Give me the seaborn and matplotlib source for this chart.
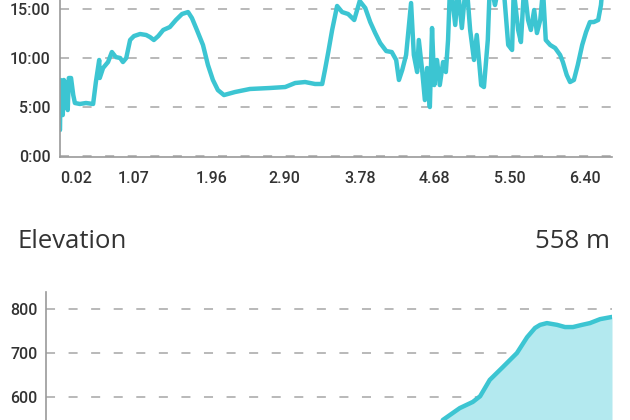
import numpy as np
import pandas as pd
import matplotlib
matplotlib.use("Agg")
import matplotlib.pyplot as plt
import seaborn as sns

# pace chart: x = position along the activity (0-100), pace in minutes per km
pace_x = [0.0, 0.1, 0.3, 0.4, 0.5, 0.7, 0.9, 1.1, 1.4, 1.6, 2.0, 2.4, 2.7, 3.6, 4.7, 6.0,
          6.5, 7.1, 7.2, 7.8, 8.7, 9.4, 10.1, 10.9, 11.4, 12.0, 12.7, 13.4, 14.5, 15.6,
          16.3, 17.0, 17.8, 18.7, 19.9, 21.0, 22.1, 23.2, 23.9, 24.8, 25.9, 26.8, 27.7,
          28.6, 29.7, 31.7, 34.4, 38.0, 40.8, 42.6, 44.4, 46.2, 47.5, 48.0, 48.6, 49.3,
          50.2, 51.1, 52.2, 53.3, 54.3, 55.3, 56.2, 57.1, 58.0, 59.1, 60.1, 60.9, 61.4,
          62.0, 62.7, 63.6, 64.1, 64.7, 65.0, 65.6, 66.1, 66.5, 67.0, 67.4, 67.8, 68.3,
          68.8, 69.4, 69.9, 70.3, 70.7, 71.6, 72.1, 72.8, 73.6, 74.3, 75.0, 75.5, 76.3,
          76.8, 77.5, 77.9, 78.8, 79.7, 80.4, 81.2, 81.9, 82.2, 83.0, 83.5, 84.1, 84.8,
          85.3, 85.9, 86.4, 87.0, 87.5, 88.0, 88.8, 89.7, 90.6, 91.1, 91.8, 92.4, 93.1,
          93.8, 94.6, 95.3, 96.0, 96.7, 97.5, 98.0, 98.4]
pace_min = [2.65, 7.76, 4.49, 7.55, 4.18, 7.76, 5.71, 7.55, 4.69, 7.96, 7.96, 6.22, 5.41,
            5.31, 5.41, 5.31, 7.55, 9.80, 7.96, 8.98, 9.59, 10.61, 10.10, 10.00, 9.59,
            10.00, 11.84, 12.24, 12.45, 12.35, 12.14, 11.84, 12.24, 12.86, 13.16, 13.88,
            14.49, 14.69, 14.08, 12.86, 11.33, 9.29, 7.76, 6.73, 6.22, 6.53, 6.84, 6.94,
            7.04, 7.45, 7.55, 7.35, 7.35, 8.78, 10.61, 12.86, 15.31, 14.69, 14.49, 13.88,
            15.82, 15.10, 13.67, 12.55, 11.53, 10.71, 10.61, 9.80, 7.76, 8.78, 10.31,
            15.61, 10.31, 8.57, 11.84, 8.78, 5.71, 8.98, 5.00, 13.06, 7.24, 9.80, 7.24,
            9.59, 8.57, 11.84, 17.96, 13.37, 16.94, 13.06, 17.96, 12.86, 9.80, 12.35,
            7.24, 7.04, 11.84, 17.96, 15.41, 17.96, 16.94, 11.33, 10.82, 16.94, 12.86,
            11.63, 17.45, 13.88, 12.86, 14.90, 12.55, 13.88, 16.94, 11.84, 11.33, 11.02,
            10.31, 9.59, 8.27, 7.55, 7.76, 9.29, 11.33, 12.65, 13.67, 13.67, 13.88,
            15.41, 17.96]
dist_tick_pos = [2.9, 13.4, 27.4, 40.6, 54.3, 67.9, 81.5, 95.1]
dist_tick_labels = ["0.02", "1.07", "1.96", "2.90", "3.78", "4.68", "5.50", "6.40"]
pace_ticks = [0, 5, 10, 15]
pace_tick_labels = ["0:00", "5:00", "10:00", "15:00"]

# elevation chart (only the visible part, lower values are cut off)
elev_x = [70.1, 73.1, 75.4, 76.7, 78.4, 80.7, 83.2, 85.0, 86.4, 87.3, 88.5, 90.3, 91.7,
          93.1, 94.7, 96.1, 97.9, 100.0]
elev_m = [548, 575, 589, 602, 639, 668, 700, 736, 757, 764, 768, 764, 759, 759, 764,
          768, 777, 782]
elev_ticks = [600, 700, 800]

pace = pd.DataFrame({"x": pace_x, "pace": pace_min})
elev = pd.DataFrame({"x": elev_x, "elev": elev_m})

sns.set_style("white")
plt.rcParams['font.family'] = ['Roboto', 'DejaVu Sans']

teal = "#3cc5d2"
grid_c = "#b3b3b3"
spine_c = "#9a9a9a"
txt_c = "#333333"

fig = plt.figure(figsize=(6.3, 4.2), dpi=100)

# top: pace
ax1 = fig.add_axes([60/630, 263/420, 552/630, 157/420])
sns.lineplot(data=pace, x="x", y="pace", ax=ax1, color=teal, linewidth=3.2)
ax1.set_xlim(0, 100)
ax1.set_ylim(-0.1, 15.92)
ax1.set_yticks(pace_ticks)
ax1.set_yticklabels(pace_tick_labels)
ax1.set_xticks(dist_tick_pos)
ax1.set_xticklabels(dist_tick_labels)

# bottom: elevation
ax2 = fig.add_axes([46/630, 0, 566/630, 128/420])
ax2.fill_between(elev["x"], elev["elev"], 0, color="#b3e9ef", linewidth=0)
sns.lineplot(data=elev, x="x", y="elev", ax=ax2, color=teal, linewidth=3.2)
ax2.set_xlim(0, 100)
ax2.set_ylim(548, 838.6)
ax2.set_yticks(elev_ticks)
ax2.set_xticks([])

for ax in (ax1, ax2):
    ax.set_xlabel("")
    ax.set_ylabel("")
    ax.grid(axis="y", color=grid_c, linestyle=(0, (5, 7.5)), linewidth=1.3)
    ax.set_axisbelow(True)
    for s in ("top", "right"):
        ax.spines[s].set_visible(False)
    ax.spines["left"].set_color(spine_c)
    ax.spines["left"].set_linewidth(1.2)
    ax.spines["bottom"].set_color(spine_c)
    ax.spines["bottom"].set_linewidth(1.2)
    ax.tick_params(length=0, labelsize=11.5, labelcolor=txt_c)
    for lab in ax.get_xticklabels() + ax.get_yticklabels():
        lab.set_fontweight("medium")
    ax.patch.set_alpha(0)

ax1.tick_params(axis="y", pad=7)
ax1.tick_params(axis="x", pad=10)
ax2.tick_params(axis="y", pad=6)
ax2.spines["bottom"].set_visible(False)

fig.text(18/630, 1 - 242/420, "Elevation", fontsize=18.5, color=txt_c,
         family="Open Sans", va="center", ha="left")
fig.text(610/630, 1 - 242/420, "558 m", fontsize=18.5, color=txt_c,
         family="Open Sans", va="center", ha="right")

fig.savefig("out.png", dpi=100)
